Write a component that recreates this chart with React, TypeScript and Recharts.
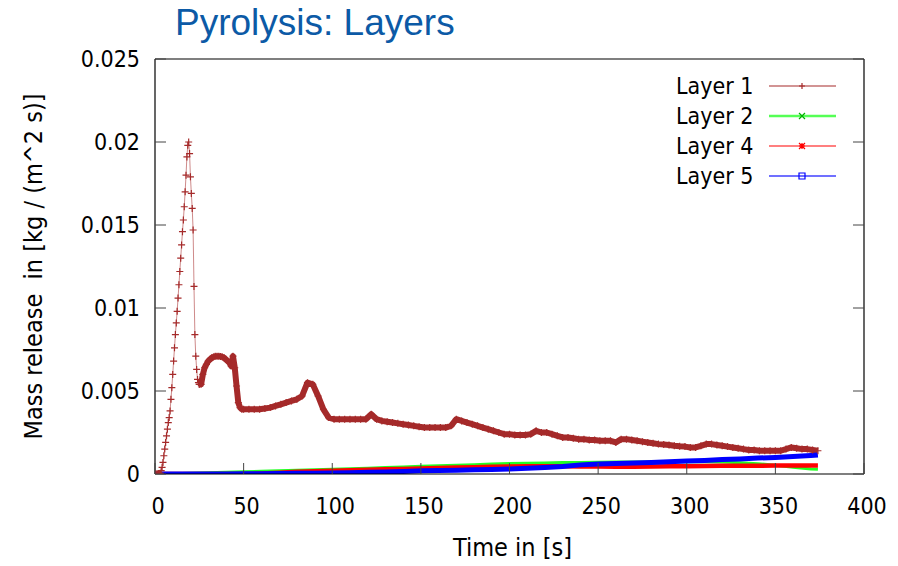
import React from 'react';
import { LineChart, Line, XAxis, YAxis, Label } from 'recharts';

const FONT = '"DejaVu Sans Condensed", "DejaVu Sans", sans-serif';

// Layer 1 — fine steps through the first peak (t = 0 .. 25, every 0.5 s)
const l1RiseStart = 0;
const l1RiseStep = 0.5;
const l1Rise = [
  0, 0, 0, 0, 0, 0, 0.00005, 0.0002, 0.0004, 0.0007, 0.0011, 0.0015, 0.0019,
  0.0023, 0.0027, 0.0031, 0.0034, 0.0038, 0.0045, 0.0052, 0.006, 0.0068, 0.0076,
  0.0084, 0.0091, 0.0098, 0.0106, 0.0114, 0.0122, 0.013, 0.0138, 0.0146, 0.0153,
  0.0161, 0.017, 0.018, 0.0191, 0.0198, 0.02,
  0.0193, 0.0179, 0.0169, 0.016, 0.0147, 0.0113, 0.0084, 0.0071, 0.0063, 0.0057,
  0.0055, 0.0054,
];

// t = 26 .. 50, every 1 s
const l1MidStart = 26;
const l1MidStep = 1;
const l1Mid = [
  0.0054, 0.006, 0.0064, 0.0066, 0.0068, 0.0069, 0.007, 0.00705, 0.0071, 0.0071,
  0.0071, 0.00708, 0.00705, 0.007, 0.0069, 0.0068, 0.0067, 0.0065, 0.0071, 0.0064,
  0.0053, 0.0043, 0.004, 0.0039, 0.0039,
];

// t = 53 .. 374, every 3 s
const l1TailStart = 53;
const l1TailStep = 3;
const l1Tail = [
  0.0039, 0.0039, 0.0039, 0.00395, 0.004, 0.0041, 0.0042, 0.0043, 0.0044, 0.0045,
  0.0047, 0.0055, 0.0054, 0.0047, 0.0039, 0.0034, 0.0033, 0.0033, 0.0033, 0.0033,
  0.0033, 0.0033, 0.0033, 0.0036, 0.0033, 0.0032, 0.00315, 0.0031, 0.00305, 0.003,
  0.00295, 0.0029, 0.00285, 0.0028, 0.0028, 0.0028, 0.0028, 0.0028, 0.0029, 0.0033,
  0.0032, 0.0031, 0.003, 0.0029, 0.0028, 0.0027, 0.0026, 0.0025, 0.0024, 0.0024,
  0.00235, 0.00235, 0.00235, 0.0024, 0.0026, 0.0025, 0.0025, 0.0024, 0.0023, 0.0022,
  0.0022, 0.00215, 0.0021, 0.0021, 0.00205, 0.00205, 0.002, 0.002, 0.002, 0.0019,
  0.0021, 0.0021, 0.00205, 0.002, 0.00195, 0.0019, 0.00185, 0.0018, 0.00178, 0.00175,
  0.0017, 0.00167, 0.00165, 0.0016, 0.0016, 0.0017, 0.0018, 0.0018, 0.00175, 0.0017,
  0.00165, 0.0016, 0.00155, 0.0015, 0.00145, 0.00145, 0.0014, 0.0014, 0.0014, 0.0014,
  0.0014, 0.0015, 0.0016, 0.00155, 0.0015, 0.0015, 0.00145, 0.0014,
];

// Layers 2, 4, 5 share one time grid
const smallTimes = [
  0, 10, 20, 30, 40, 50, 60, 70, 80, 90, 100, 110, 120, 130, 140, 150, 160, 170,
  180, 190, 200, 210, 220, 230, 240, 250, 260, 270, 280, 290, 300, 310, 320, 330,
  340, 350, 360, 370, 374,
];
const layer2 = [
  0, 0.00002, 0.00004, 0.00007, 0.0001, 0.00013, 0.00016, 0.00019, 0.00022, 0.00025,
  0.00028, 0.00032, 0.00035, 0.00039, 0.00042, 0.00046, 0.00049, 0.00053, 0.00056,
  0.0006, 0.00063, 0.00065, 0.00067, 0.00069, 0.0007, 0.00071, 0.00072, 0.00073,
  0.00073, 0.00074, 0.00074, 0.00074, 0.00072, 0.00068, 0.00062, 0.00052, 0.0004,
  0.0003, 0.00028,
];
const layer4 = [
  0, 0, 0, 0, 0, 0, 0.00003, 0.00008, 0.00013, 0.00017, 0.0002, 0.00023, 0.00026,
  0.00028, 0.0003, 0.00033, 0.00036, 0.00039, 0.00041, 0.00043, 0.00045, 0.00046,
  0.00046, 0.00046, 0.00045, 0.00045, 0.00044, 0.00044, 0.00045, 0.00046, 0.00047,
  0.00048, 0.00049, 0.0005, 0.0005, 0.00051, 0.00051, 0.00051, 0.00051,
];
const layer5 = [
  0, 0, 0, 0, 0, 0.00001, 0.00002, 0.00003, 0.00004, 0.00005, 0.00006, 0.00008,
  0.0001, 0.00012, 0.00015, 0.00019, 0.00021, 0.00023, 0.00025, 0.00027, 0.0003,
  0.00034, 0.00039, 0.00045, 0.00055, 0.0006, 0.00063, 0.00066, 0.0007, 0.00074,
  0.00078, 0.00082, 0.00087, 0.00091, 0.00096, 0.001, 0.00106, 0.00112, 0.00115,
];

const xTicks = [0, 50, 100, 150, 200, 250, 300, 350, 400];
const yTicks = [0, 0.005, 0.01, 0.015, 0.02, 0.025];

const segment = (start: number, step: number, vals: number[]) =>
  vals.map((v, i) => ({ t: start + i * step, v }));

// steep first peak: thin line with separate markers
const layer1Head = segment(l1RiseStart, l1RiseStep, l1Rise);
// the rest: markers so dense they merge into a band
const layer1Body = [
  layer1Head[layer1Head.length - 1],
  ...segment(l1MidStart, l1MidStep, l1Mid),
  ...segment(l1TailStart, l1TailStep, l1Tail),
];
const layer2Data = smallTimes.map((t, i) => ({ t, v: layer2[i] }));
const layer4Data = smallTimes.map((t, i) => ({ t, v: layer4[i] }));
const layer5Data = smallTimes.map((t, i) => ({ t, v: layer5[i] }));

const TICK = 11;

const BottomTick = (p: any) => (
  <g>
    <line x1={p.x} y1={p.y} x2={p.x} y2={p.y - TICK} stroke="#444" />
    <text x={p.x + 3} y={p.y + 40} textAnchor="middle" fontSize={23} fontFamily={FONT} fill="#000">
      {p.payload.value}
    </text>
  </g>
);
const TopTick = (p: any) => <line x1={p.x} y1={p.y} x2={p.x} y2={p.y + TICK} stroke="#444" />;
const LeftTick = (p: any) => (
  <g>
    <line x1={p.x} y1={p.y} x2={p.x + TICK} y2={p.y} stroke="#444" />
    <text x={p.x - 15} y={p.y + 8} textAnchor="end" fontSize={23} fontFamily={FONT} fill="#000">
      {p.payload.value}
    </text>
  </g>
);
const RightTick = (p: any) => <line x1={p.x} y1={p.y} x2={p.x - TICK} y2={p.y} stroke="#444" />;

const plusDot = (p: any) => (
  <path
    key={`p${p.index}`}
    d={`M${p.cx - 3.5},${p.cy}h7M${p.cx},${p.cy - 3.5}v7`}
    stroke="#a52a2a"
    strokeWidth={1.2}
    fill="none"
  />
);

const YLabel = (p: any) => {
  const vb = p.viewBox;
  const cx = 33;
  const cy = vb.y + vb.height / 2;
  return (
    <text
      x={cx}
      y={cy}
      transform={`rotate(-90, ${cx}, ${cy})`}
      textAnchor="middle"
      dominantBaseline="central"
      fontSize={25}
      fontFamily={FONT}
      fill="#000"
      style={{ whiteSpace: 'pre' }}
    >
      {'Mass release  in [kg / (m^2 s)]'}
    </text>
  );
};

const legendRows = [
  { name: 'Layer 1', color: '#a52a2a', width: 1.2, marker: 'plus' },
  { name: 'Layer 2', color: '#55ff55', width: 2.5, marker: 'cross' },
  { name: 'Layer 4', color: '#ff0000', width: 1.2, marker: 'star' },
  { name: 'Layer 5', color: '#4040ff', width: 1.5, marker: 'box' },
];

const markerPath = (kind: string, x: number, y: number) => {
  if (kind === 'plus') return `M${x - 3},${y}h6M${x},${y - 3}v6`;
  if (kind === 'cross') return `M${x - 3},${y - 3}l6,6M${x - 3},${y + 3}l6,-6`;
  if (kind === 'star') return `M${x - 3},${y}h6M${x},${y - 3}v6M${x - 3},${y - 3}l6,6M${x - 3},${y + 3}l6,-6`;
  return `M${x - 3},${y - 3}h6v6h-6z`;
};

const markerColor: Record<string, string> = {
  plus: '#a52a2a',
  cross: '#00b000',
  star: '#ff0000',
  box: '#0000ff',
};

export default function App() {
  return (
    <div style={{ position: 'absolute', left: 0, top: 0, width: 898, height: 566, background: '#fff' }}>
      <LineChart width={898} height={566} margin={{ top: 58, right: 33, bottom: 0, left: 0 }}>
        <XAxis
          xAxisId={0}
          dataKey="t"
          type="number"
          domain={[0, 400]}
          ticks={xTicks}
          height={92}
          tickSize={0}
          tickMargin={0}
          tick={<BottomTick />}
          axisLine={{ stroke: '#000', strokeWidth: 1.2 }}
          allowDataOverflow
        >
          <Label
            value="Time in [s]"
            position="bottom"
            offset={-28}
            fontSize={25}
            fontFamily={FONT}
            fill="#000"
            dx={3}
          />
        </XAxis>
        <XAxis
          xAxisId="top"
          orientation="top"
          type="number"
          domain={[0, 400]}
          ticks={xTicks}
          height={1}
          tickSize={0}
          tickMargin={0}
          tick={<TopTick />}
          axisLine={{ stroke: '#000', strokeWidth: 1.2 }}
          allowDataOverflow
        />
        <YAxis
          yAxisId={0}
          type="number"
          domain={[0, 0.025]}
          ticks={yTicks}
          width={155}
          tickSize={0}
          tickMargin={0}
          tick={<LeftTick />}
          axisLine={{ stroke: '#000', strokeWidth: 1.2 }}
          allowDataOverflow
        >
          <Label content={<YLabel />} />
        </YAxis>
        <YAxis
          yAxisId="right"
          orientation="right"
          type="number"
          domain={[0, 0.025]}
          ticks={yTicks}
          width={1}
          tickSize={0}
          tickMargin={0}
          tick={<RightTick />}
          axisLine={{ stroke: '#000', strokeWidth: 1.2 }}
          allowDataOverflow
        />
        <Line
          data={layer1Head}
          dataKey="v"
          type="linear"
          stroke="#a52a2a"
          strokeOpacity={0.55}
          strokeWidth={1}
          dot={plusDot}
          isAnimationActive={false}
        />
        <Line
          data={layer1Body}
          dataKey="v"
          type="linear"
          stroke="#a52a2a"
          strokeWidth={6}
          strokeLinejoin="round"
          dot={plusDot}
          isAnimationActive={false}
        />
        <Line
          data={layer2Data}
          dataKey="v"
          type="linear"
          stroke="#22ff22"
          strokeWidth={3}
          dot={false}
          isAnimationActive={false}
        />
        <Line
          data={layer4Data}
          dataKey="v"
          type="linear"
          stroke="#ff0000"
          strokeWidth={4.5}
          dot={false}
          isAnimationActive={false}
        />
        <Line
          data={layer5Data}
          dataKey="v"
          type="linear"
          stroke="#0000ff"
          strokeWidth={5}
          dot={false}
          isAnimationActive={false}
        />
      </LineChart>
      <svg
        width={898}
        height={566}
        style={{ position: 'absolute', left: 0, top: 0, pointerEvents: 'none' }}
      >
        <text x={175} y={35} fontSize={37} fontFamily='"Liberation Sans", Arial, sans-serif' fill="#0c5aa6">
          Pyrolysis: Layers
        </text>
        {legendRows.map((r, i) => {
          const y = 86 + i * 30;
          return (
            <g key={r.name}>
              <text x={676} y={y + 8} fontSize={23} fontFamily={FONT} fill="#000">
                {r.name}
              </text>
              <line x1={769} y1={y} x2={836} y2={y} stroke={r.color} strokeWidth={r.width} />
              <path d={markerPath(r.marker, 802, y)} stroke={markerColor[r.marker]} strokeWidth={1.2} fill="none" />
            </g>
          );
        })}
      </svg>
    </div>
  );
}
